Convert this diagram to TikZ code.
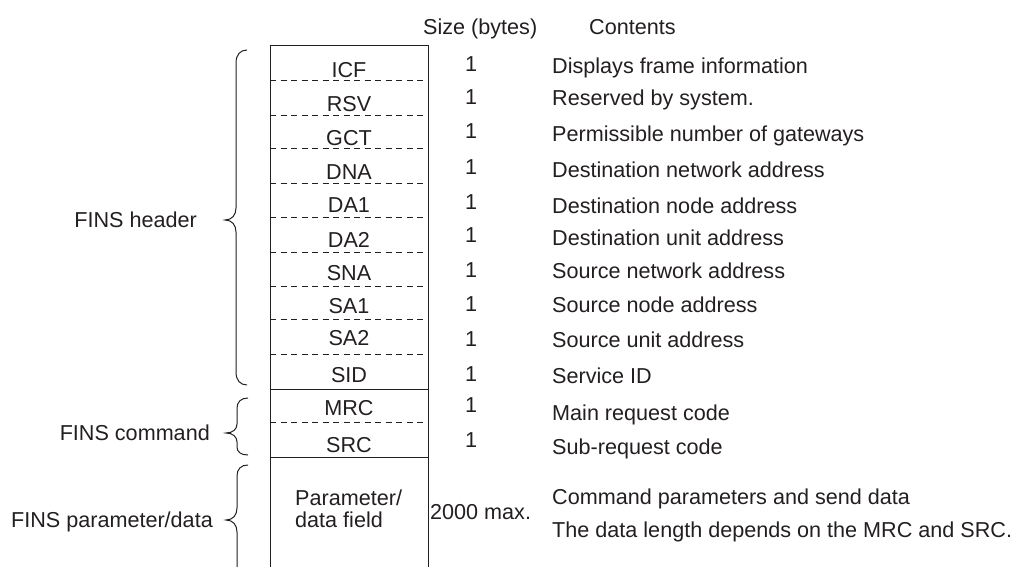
\documentclass[tikz,border=0pt]{standalone}
\usepackage{fontspec}
\setmainfont{Liberation Sans}
\definecolor{ink}{HTML}{231F20}
\newcommand{\fsz}{\fontsize{21.6}{24}\selectfont}
\begin{document}
\begin{tikzpicture}[x=1pt,y=-1pt,
  txt/.style={font=\fsz, text=ink, inner sep=0pt, anchor=base},
  ltxt/.style={txt, anchor=base west},
  rtxt/.style={txt, anchor=base east},
  boxline/.style={draw=ink, line width=1pt},
  dashline/.style={draw=ink, line width=0.9pt, dash pattern=on 6pt off 4.5pt},
  bracel/.style={draw=ink, line width=1pt}]
\useasboundingbox (0,0) rectangle (1019,567);

% headers
\node[ltxt] (hsize) at (423,35) {Size (bytes)};
\node[ltxt] (hcont) at (589,35) {Contents};

% frame box
\draw[boxline] (270,567) -- (270,46) -- (428,46) -- (428,567);
\foreach \y in {80,115,148,183,217,252,286,319,354,422}
  \draw[dashline] (270,\y) -- (428,\y);
\draw[boxline] (270,389) -- (428,389);
\draw[boxline] (270,457) -- (428,457);

% field labels
\foreach \n/\t/\y in {f1/ICF/78, f2/RSV/112, f3/GCT/145, f4/DNA/179, f5/DA1/212, f6/DA2/247, f7/SNA/280, f8/SA1/313, f9/SA2/345, f10/SID/382, f11/MRC/415, f12/SRC/452}
  \node[txt] (\n) at (349,\y) {\t};
\node[ltxt] (pf1) at (295,505) {Parameter/};
\node[ltxt] (pf2) at (295,527) {data field};

% sizes
\foreach \n/\y in {s1/72, s2/105, s3/139, s4/174, s5/209, s6/242, s7/277, s8/311, s9/346, s10/381, s11/412, s12/447}
  \node[txt] (\n) at (471,\y) {1};
\node[ltxt] (s13) at (430,519) {2000 max.};

% contents
\node[ltxt] (c1) at (552,74) {Displays frame information};
\node[ltxt] (c2) at (552,106) {Reserved by system.};
\node[ltxt] (c3) at (552,142) {Permissible number of gateways};
\node[ltxt] (c4) at (552,177) {Destination network address};
\node[ltxt] (c5) at (552,213) {Destination node address};
\node[ltxt] (c6) at (552,245) {Destination unit address};
\node[ltxt] (c7) at (552,278) {Source network address};
\node[ltxt] (c8) at (552,312) {Source node address};
\node[ltxt] (c9) at (552,347) {Source unit address};
\node[ltxt] (c10) at (552,383) {Service ID};
\node[ltxt] (c11) at (552,420) {Main request code};
\node[ltxt] (c12) at (552,454) {Sub-request code};
\node[ltxt] (c13) at (552,504) {Command parameters and send data};
\node[ltxt] (c14) at (552,537) {The data length depends on the MRC and SRC.};

% group labels
\node[rtxt] (g1) at (197,227) {FINS header};
\node[rtxt] (g2) at (210,440) {FINS command};
\node[rtxt] (g3) at (213,527) {FINS parameter/data};

% braces
\draw[bracel] (247,50) .. controls (240,50) and (236,55) .. (236,63) -- (236,208)
  .. controls (236,215) and (232,220) .. (225,220)
  .. controls (232,220) and (236,225) .. (236,232) -- (236,372)
  .. controls (236,380) and (240,385) .. (247,385);
\draw[bracel] (248,398) .. controls (241,398) and (237,402) .. (237,408) -- (237,424)
  .. controls (237,429) and (233,433) .. (226,433)
  .. controls (233,433) and (237,437) .. (237,442) -- (237,447)
  .. controls (237,452) and (241,455) .. (248,455);
\draw[bracel] (248,465) .. controls (241,465) and (237,469) .. (237,476) -- (237,508)
  .. controls (237,515) and (233,520) .. (226,520)
  .. controls (233,520) and (237,525) .. (237,532) -- (237,567);
\end{tikzpicture}
\end{document}
